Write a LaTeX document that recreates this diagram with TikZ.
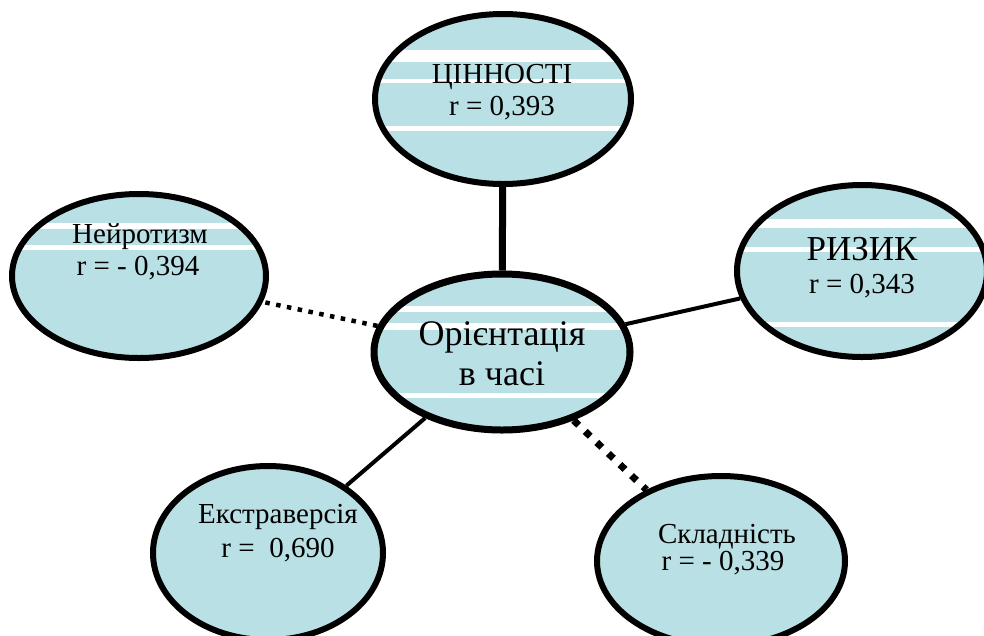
\documentclass[tikz,border=0pt]{standalone}
\usepackage{fontspec}
\setmainfont{Liberation Serif}
\usetikzlibrary{shapes.geometric}
\definecolor{ellfill}{RGB}{185,224,228}
\tikzset{
  ell/.style={ellipse, draw=black, line width=6pt, inner sep=0pt},
  lbl/.style={anchor=base, inner sep=0pt, font=\fontsize{29}{32}\selectfont},
  solidlink/.style={line width=4pt},
  dotlink/.style={line width=4.5pt, dash pattern=on 4.5pt off 6.5pt},
  dotlinkbig/.style={line width=7pt, dash pattern=on 7pt off 9pt},
}
\newcommand{\ellbg}[5]{% cx cy rx ry stripes
  \fill[ellfill] (#1,#2) ellipse ({#3} and {#4});
  \begin{scope}
    \clip (#1,#2) ellipse ({#3} and {#4});
    \foreach \ya/\yb in {#5} {\fill[white] (#1-#3,\ya) rectangle (#1+#3,\yb);}
  \end{scope}
}
\begin{document}
\begin{tikzpicture}[x=1pt,y=-1pt]
\useasboundingbox (0,0) rectangle (984,635);
% backgrounds and stripes
\ellbg{503}{99}{128}{85}{50/62,79/83,126/131}
\ellbg{502}{352}{128}{78}{306/312,323/330,393/398}
\ellbg{139}{276}{127}{82}{223/229,245/250}
\ellbg{862}{271}{125}{86}{219/228,247/252,322/327}
\ellbg{268}{553}{115}{87}{}
\ellbg{721}{561}{124}{85}{}
% outlines
\node[ell, minimum width=256pt, minimum height=170pt] (val) at (503,99) {};
\node[ell, line width=7pt, minimum width=256pt, minimum height=156pt] (time) at (502,352) {};
\node[ell, minimum width=254pt, minimum height=164pt] (neur) at (139,276) {};
\node[ell, minimum width=250pt, minimum height=172pt] (risk) at (862,271) {};
\node[ell, minimum width=230pt, minimum height=174pt] (extr) at (268,553) {};
\node[ell, minimum width=248pt, minimum height=170pt] (compl) at (721,561) {};
% connectors
\draw[line width=7pt] (val) -- (time);
\draw[solidlink] (time) -- (risk);
\draw[solidlink] (time) -- (extr);
\draw[dotlink] (time) -- (neur);
\draw[dotlinkbig] (time) -- (compl);
% texts
\node[lbl] (t1) at (502,83) {ЦІННОСТІ};
\node[lbl] (t2) at (502,115) {r = 0,393};
\node[lbl, font=\fontsize{36}{40}\selectfont] (t3) at (502,345) {Орієнтація};
\node[lbl, font=\fontsize{36}{40}\selectfont] (t4) at (502,385) {в часі};
\node[lbl] (t5) at (140,243) {Нейротизм};
\node[lbl] (t6) at (138,275) {r = - 0,394};
\node[lbl, font=\fontsize{35}{38}\selectfont] (t7) at (862,260) {РИЗИК};
\node[lbl] (t8) at (862,293) {r = 0,343};
\node[lbl] (t9) at (278,523) {Екстраверсія};
\node[lbl] (t10) at (278,557) {r =\ \ 0,690};
\node[lbl] (t11) at (727,543) {Складність};
\node[lbl] (t12) at (723,570) {r = - 0,339};
\end{tikzpicture}
\end{document}
